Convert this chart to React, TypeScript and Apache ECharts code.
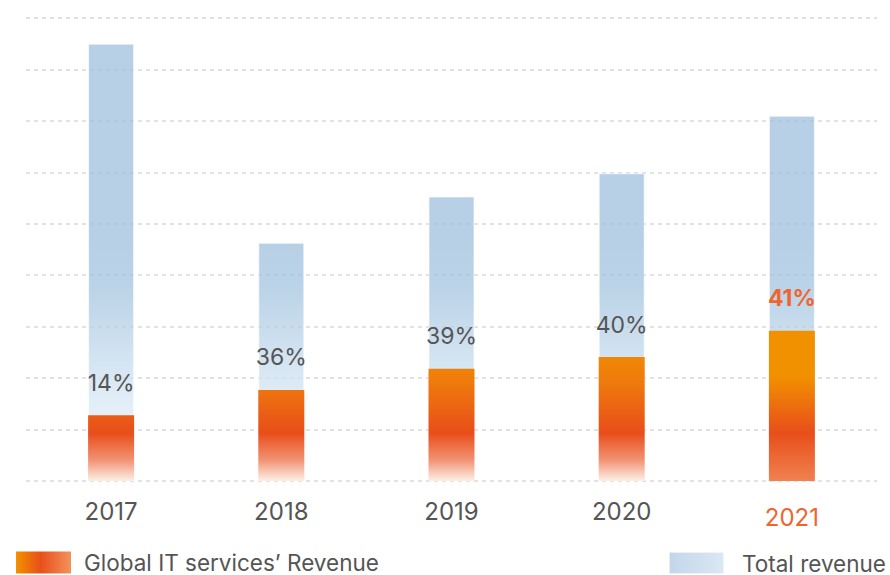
import React, { useEffect, useRef } from "react";
import * as echarts from "echarts";

const years = ["2017", "2018", "2019", "2020", "2021"];
const totalRevenue = [8.5, 4.63, 5.53, 5.98, 7.1];
const itRevenue = [1.28, 1.77, 2.18, 2.41, 2.92];
const shareLabels = ["14%", "36%", "39%", "40%", "41%"];
const highlightYear = "2021";

const GREY = "#555555";
const HIGHLIGHT = "#f0652e";
const FONT = "Inter, 'Noto Sans', sans-serif";

function lin(x: number, y: number, x2: number, y2: number, stops: [number, string][], global = false) {
  return new echarts.graphic.LinearGradient(
    x, y, x2, y2,
    stops.map(([offset, color]) => ({ offset, color })),
    global
  );
}

export default function App() {
  const ref = useRef<HTMLDivElement>(null);
  useEffect(() => {
    if (!ref.current) return;
    const chart = echarts.init(ref.current, undefined, { renderer: "svg" });

    const blueFill = lin(0, 240, 0, 481, [
      [0, "rgba(160,192,222,0.75)"],
      [0.21, "rgba(165,197,224,0.75)"],
      [0.66, "rgba(215,231,244,0.75)"],
      [1, "rgba(238,244,251,0.75)"],
    ], true);
    const orangeFill = lin(0, 340, 0, 481, [
      [0, "#f29100"],
      [0.3, "#ef7a0c"],
      [0.66, "#e84e1a"],
      [0.85, "#f29272"],
      [1, "#fdf0e8"],
    ], true);
    const orangeFillHi = lin(0, 331, 0, 481, [
      [0, "#f29100"],
      [0.3, "#f29100"],
      [0.68, "#e84e1a"],
      [1, "#f08250"],
    ], true);

    const itData = itRevenue.map((v, i) =>
      years[i] === highlightYear
        ? {
            value: v,
            itemStyle: { color: orangeFillHi },
            label: { color: HIGHLIGHT, fontWeight: "bold" as const },
          }
        : v
    );

    chart.setOption({
      animation: false,
      textStyle: { fontFamily: FONT },
      grid: { left: 26, right: 13, top: 18, bottom: 94 },
      legend: [
        {
          left: 16,
          top: 551,
          padding: 0,
          itemWidth: 55,
          itemHeight: 22,
          selectedMode: false,
          icon: "rect",
          textStyle: { fontSize: 22.5, color: GREY, fontFamily: FONT, padding: [0, 0, 0, 8] },
          data: [
            {
              name: "Global IT services’ Revenue",
              itemStyle: {
                color: lin(0, 0, 1, 0, [
                  [0, "#f29100"],
                  [0.45, "#e8501a"],
                  [1, "#f4925c"],
                ]),
              },
            },
          ],
        },
        {
          left: 668,
          top: 551,
          padding: 0,
          itemWidth: 55,
          itemHeight: 22,
          selectedMode: false,
          icon: "rect",
          textStyle: { fontSize: 22.5, color: GREY, fontFamily: FONT, padding: [0, 0, 0, 13] },
          data: [
            {
              name: "Total revenue",
              itemStyle: {
                color: lin(0, 0, 1, 0, [
                  [0, "#c3d6e9"],
                  [1, "#dbe8f4"],
                ]),
              },
            },
          ],
        },
      ],
      xAxis: {
        type: "category",
        data: years,
        axisLine: { show: false },
        axisTick: { show: false },
        axisLabel: {
          margin: 18,
          fontSize: 24,
          color: GREY,
          formatter: (v: string) => (v === highlightYear ? `{hl|${v}}` : v),
          rich: {
            hl: { fontSize: 24, color: HIGHLIGHT, padding: [6, 0, 0, 0], fontFamily: FONT },
          },
        },
      },
      yAxis: {
        type: "value",
        min: 0,
        max: 9,
        interval: 1,
        axisLabel: { show: false },
        axisLine: { show: false },
        axisTick: { show: false },
        splitLine: { lineStyle: { color: "#d9d9d9", width: 1.5, type: [4, 4] } },
      },
      series: [
        {
          name: "Total revenue",
          type: "bar",
          barWidth: 46,
          barGap: "-100%",
          data: totalRevenue,
          itemStyle: { color: blueFill, borderColor: "rgba(255,255,255,0.6)", borderWidth: 1 },
        },
        {
          name: "Global IT services’ Revenue",
          type: "bar",
          barWidth: 46,
          barGap: "-100%",
          data: itData,
          itemStyle: { color: orangeFill },
          label: {
            show: true,
            position: "top",
            distance: 21,
            fontSize: 23,
            color: GREY,
            fontFamily: FONT,
            formatter: (p: any) => shareLabels[p.dataIndex],
          },
        },
      ],
    });
    return () => chart.dispose();
  }, []);
  return <div ref={ref} style={{ width: 890, height: 575, position: "absolute", left: 0, top: 0 }} />;
}
